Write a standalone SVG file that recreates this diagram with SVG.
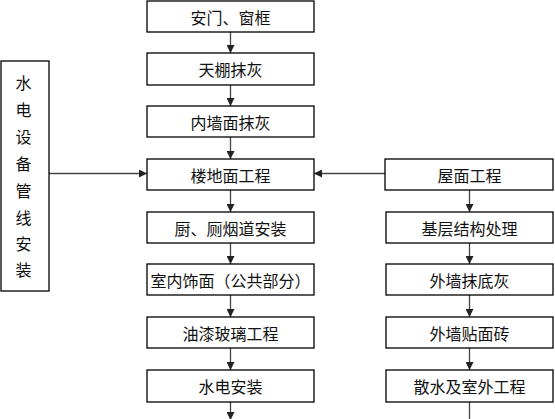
<svg xmlns="http://www.w3.org/2000/svg" width="555" height="419" viewBox="0 0 555 419">
<style>
.box{fill:#fff;stroke:#000;stroke-width:1.3}
.t{font-family:"Noto Sans CJK SC","Noto Sans CJK TC",sans-serif;font-size:16px;fill:#111;text-anchor:middle;dominant-baseline:central}
.c{stroke:#444;stroke-width:1.3;fill:none}
</style>
<defs>
<marker id="ah" markerWidth="8" markerHeight="8" refX="8" refY="4" orient="auto" markerUnits="userSpaceOnUse">
<path d="M0,0 L8,4 L0,8 Z" fill="#222"/>
</marker>
</defs>
<rect width="555" height="419" fill="#fff"/>
<g id="connectors">
<line class="c" x1="230.5" y1="32" x2="230.5" y2="53" marker-end="url(#ah)"/>
<line class="c" x1="230.5" y1="85" x2="230.5" y2="106" marker-end="url(#ah)"/>
<line class="c" x1="230.5" y1="137" x2="230.5" y2="159" marker-end="url(#ah)"/>
<line class="c" x1="230.5" y1="190" x2="230.5" y2="212" marker-end="url(#ah)"/>
<line class="c" x1="230.5" y1="243" x2="230.5" y2="264" marker-end="url(#ah)"/>
<line class="c" x1="230.5" y1="295" x2="230.5" y2="317" marker-end="url(#ah)"/>
<line class="c" x1="230.5" y1="348" x2="230.5" y2="370" marker-end="url(#ah)"/>
<line class="c" x1="230.5" y1="402" x2="230.5" y2="420" marker-end="url(#ah)"/>
<line class="c" x1="49" y1="173.5" x2="147" y2="173.5" marker-end="url(#ah)"/>
<line class="c" x1="385" y1="173.5" x2="314" y2="173.5" marker-end="url(#ah)"/>
<line class="c" x1="469.5" y1="190" x2="469.5" y2="212" marker-end="url(#ah)"/>
<line class="c" x1="469.5" y1="243" x2="469.5" y2="264" marker-end="url(#ah)"/>
<line class="c" x1="469.5" y1="295" x2="469.5" y2="317" marker-end="url(#ah)"/>
<line class="c" x1="469.5" y1="348" x2="469.5" y2="370" marker-end="url(#ah)"/>
<line class="c" x1="469.5" y1="402" x2="469.5" y2="419"/>
</g>
<g id="n1"><rect class="box" x="147" y="1" width="167" height="31"/><text class="t" x="230.5" y="16.5">安门、窗框</text></g>
<g id="n2"><rect class="box" x="147" y="53" width="167" height="32"/><text class="t" x="230.5" y="69">天棚抹灰</text></g>
<g id="n3"><rect class="box" x="147" y="106" width="167" height="31"/><text class="t" x="230.5" y="121.5">内墙面抹灰</text></g>
<g id="n4"><rect class="box" x="147" y="159" width="167" height="31"/><text class="t" x="230.5" y="174.5">楼地面工程</text></g>
<g id="n5"><rect class="box" x="147" y="212" width="167" height="31"/><text class="t" x="230.5" y="227.5">厨、厕烟道安装</text></g>
<g id="n6"><rect class="box" x="147" y="264" width="167" height="31"/><text class="t" x="230.5" y="279.5">室内饰面（公共部分）</text></g>
<g id="n7"><rect class="box" x="147" y="317" width="167" height="31"/><text class="t" x="230.5" y="332.5">油漆玻璃工程</text></g>
<g id="n8"><rect class="box" x="147" y="370" width="167" height="32"/><text class="t" x="230.5" y="386">水电安装</text></g>
<g id="left"><rect class="box" x="1" y="61" width="48" height="230"/>
<text class="t" x="23.5" y="82">水</text><text class="t" x="23.5" y="109">电</text><text class="t" x="23.5" y="136">设</text><text class="t" x="23.5" y="163">备</text><text class="t" x="23.5" y="190">管</text><text class="t" x="23.5" y="217">线</text><text class="t" x="23.5" y="243">安</text><text class="t" x="23.5" y="269">装</text></g>
<g id="r1"><rect class="box" x="385" y="159" width="168" height="31"/><text class="t" x="469.5" y="174.5">屋面工程</text></g>
<g id="r2"><rect class="box" x="386" y="212" width="167" height="31"/><text class="t" x="469.5" y="227.5">基层结构处理</text></g>
<g id="r3"><rect class="box" x="386" y="264" width="167" height="31"/><text class="t" x="469.5" y="279.5">外墙抹底灰</text></g>
<g id="r4"><rect class="box" x="386" y="317" width="167" height="31"/><text class="t" x="469.5" y="332.5">外墙贴面砖</text></g>
<g id="r5"><rect class="box" x="386" y="370" width="167" height="32"/><text class="t" x="469.5" y="386">散水及室外工程</text></g>
</svg>
